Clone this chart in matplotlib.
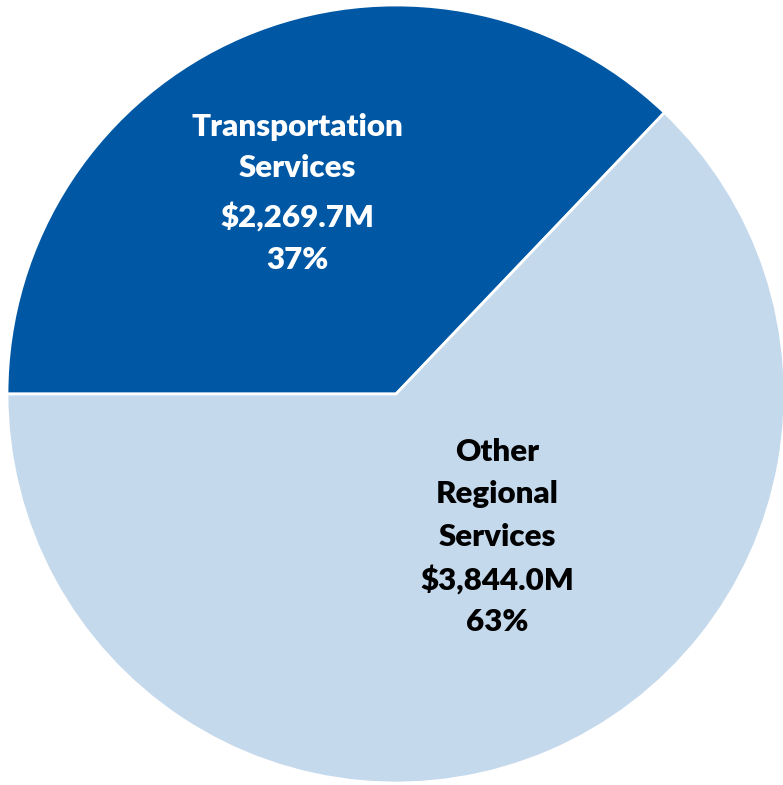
import matplotlib
matplotlib.use('agg')
import matplotlib.pyplot as plt

# data
categories = ['Transportation\nServices', 'Other\nRegional\nServices']
amounts = [2269.7, 3844.0]
amount_labels = ['$2,269.7M', '$3,844.0M']
pct_labels = ['37%', '63%']
colors = ['#0058A5', '#C5D9ED']
text_colors = ['white', 'black']

fig = plt.figure(figsize=(7.83, 7.85), dpi=100)
ax = fig.add_axes([0, 0, 1, 1])
ax.pie(amounts, colors=colors, startangle=180, counterclock=False, radius=1.0,
       wedgeprops=dict(edgecolor='white', linewidth=2))
ax.set_xlim(-396 / 389, 387 / 389)
ax.set_ylim(-391 / 389, 394 / 389)
ax.set_aspect('equal')
ax.axis('off')

font = dict(family=['Lato', 'DejaVu Sans'], fontweight='heavy', fontsize=22.5,
            ha='center', va='center')

# label positions (data coords)
pos = [(-0.254, [0.686, 0.581, 0.455, 0.344]),
       (0.26, [-0.149, -0.257, -0.368, -0.478, -0.586])]

for i, (x, ys) in enumerate(pos):
    lines = categories[i].split('\n') + [amount_labels[i], pct_labels[i]]
    for line, y in zip(lines, ys):
        ax.text(x, y, line, color=text_colors[i], **font)

fig.savefig('out.png', dpi=100)
